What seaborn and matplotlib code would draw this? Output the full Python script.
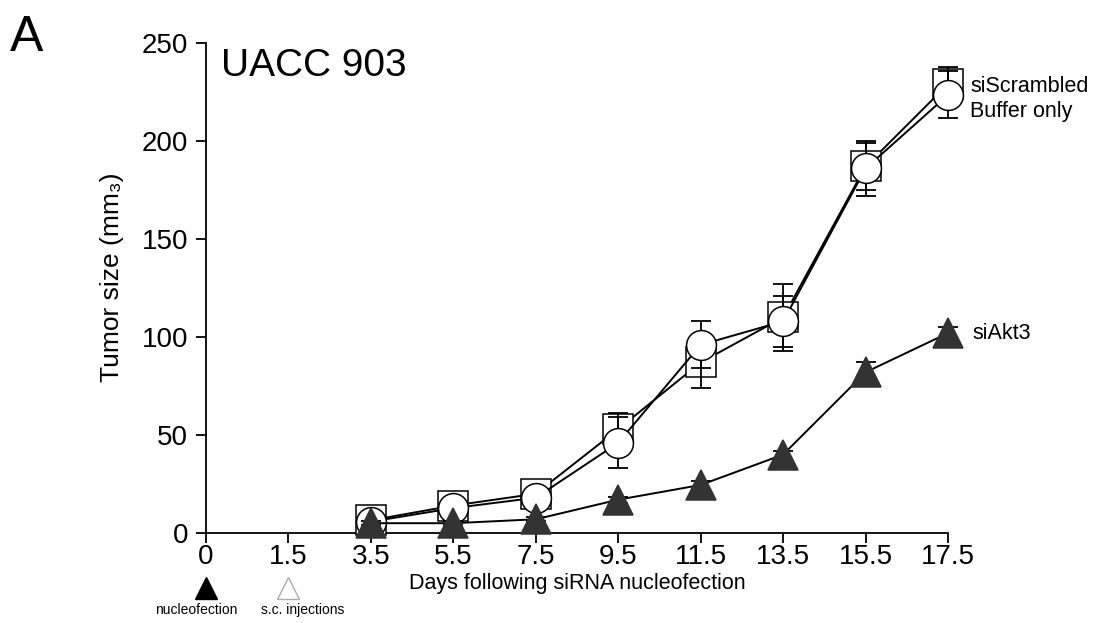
import matplotlib

matplotlib.use("Agg")
import matplotlib.pyplot as plt
import matplotlib.transforms as mtransforms
import pandas as pd
import seaborn as sns

# x categories (days after nucleofection), drawn at evenly spaced positions
day_labels = ["0", "1.5", "3.5", "5.5", "7.5", "9.5", "11.5", "13.5", "15.5", "17.5"]
days_measured = ["3.5", "5.5", "7.5", "9.5", "11.5", "13.5", "15.5", "17.5"]

scrambled = [6.5, 14, 20, 53, 87, 110, 187, 229]
scrambled_err = [2, 2, 3, 8, 13, 17, 12, 9]
buffer_only = [5.8, 12.7, 18, 46, 96, 108, 186, 223.5]
buffer_err = [2, 2, 3, 13, 12, 13, 14, 12]
akt3 = [5, 5, 7, 17, 24.5, 40, 82, 102]
akt3_err = [1, 1, 1, 1.5, 2, 2, 5, 3]

FONT = ["Liberation Sans", "DejaVu Sans"]
DARK = "#333333"

sns.set_theme(style="white")
plt.rcParams["font.family"] = FONT
plt.rcParams["axes.edgecolor"] = "black"
plt.rcParams["axes.labelcolor"] = "black"
plt.rcParams["text.color"] = "black"

pos = {lab: i for i, lab in enumerate(day_labels)}
xs = [pos[d] for d in days_measured]

df = pd.DataFrame({
    "x": xs * 3,
    "size": scrambled + buffer_only + akt3,
    "err": scrambled_err + buffer_err + akt3_err,
    "group": ["siScrambled"] * 8 + ["Buffer only"] * 8 + ["siAkt3"] * 8,
})

fig = plt.figure(figsize=(11.13, 6.23), dpi=100)
ax = fig.add_axes([206 / 1113, 1 - 533 / 623, (948 - 206) / 1113, 490 / 623])

# marker zorder, errorbar zorder
styles = {
    "siScrambled": dict(marker="s", ms=21, mfc="white", z=3, ez=3.5),
    "Buffer only": dict(marker="o", ms=21.5, mfc="white", z=4, ez=3.7),
    "siAkt3": dict(marker="^", ms=22, mfc=DARK, z=5, ez=4.5),
}

for name, st in styles.items():
    sub = df[df["group"] == name]
    ax.errorbar(sub["x"], sub["size"], yerr=sub["err"], fmt="none", ecolor="black",
                elinewidth=1.3, capsize=7.5, capthick=1.3, zorder=st["ez"], clip_on=False)
    sns.lineplot(data=sub, x="x", y="size", ax=ax, color="black", linewidth=1.4,
                 marker=st["marker"], markersize=st["ms"], markerfacecolor=st["mfc"],
                 markeredgecolor="black" if st["mfc"] == "white" else DARK,
                 markeredgewidth=1.1, zorder=st["z"], clip_on=False, legend=False)

ax.set_xlim(0, len(day_labels) - 1)
ax.set_ylim(0, 250)
ax.set_xticks(range(len(day_labels)))
ax.set_xticklabels(day_labels)
ax.set_yticks([0, 50, 100, 150, 200, 250])
ax.tick_params(axis="both", which="major", direction="out", length=7, width=1.3,
               labelsize=20, colors="black", bottom=True, left=True)
ax.tick_params(axis="x", pad=1)
ax.tick_params(axis="y", pad=6)
for side in ["top", "right"]:
    ax.spines[side].set_visible(False)
for side in ["left", "bottom"]:
    ax.spines[side].set_linewidth(1.3)

ax.set_xlabel("Days following siRNA nucleofection", fontsize=15.5, labelpad=2)
ax.set_ylabel("Tumor size (mm\u2083)", fontsize=19)
ax.yaxis.set_label_coords(-0.11, 0.522)

ax.text(0.02, 0.99, "UACC 903", transform=ax.transAxes, fontsize=28, va="top", ha="left")
fig.text(10 / 1113, 1 - 38 / 623, "A", fontsize=36, va="center", ha="left")

# series labels at the right end
last = len(day_labels) - 1
ax.text(last + 0.27, 228, "siScrambled", fontsize=15.5, va="center", ha="left", clip_on=False)
ax.text(last + 0.27, 215, "Buffer only", fontsize=15.5, va="center", ha="left", clip_on=False)
ax.text(last + 0.3, 102, "siAkt3", fontsize=15.5, va="center", ha="left", clip_on=False)

# treatment markers below the axis
trans = mtransforms.blended_transform_factory(ax.transData, ax.transAxes)
ax.plot([pos["0"]], [-0.112], marker="^", ms=16, mfc="black", mec="black",
        transform=trans, clip_on=False, linestyle="none")
ax.plot([pos["1.5"]], [-0.112], marker="^", ms=16, mfc="white", mec="#aaaaaa",
        mew=1.0, transform=trans, clip_on=False, linestyle="none")
ax.text(pos["0"] - 0.12, -0.157, "nucleofection", transform=trans, fontsize=10,
        ha="center", va="center")
ax.text(pos["1.5"] + 0.17, -0.157, "s.c. injections", transform=trans, fontsize=10,
        ha="center", va="center")

fig.savefig("out.png", dpi=100, facecolor="white")
